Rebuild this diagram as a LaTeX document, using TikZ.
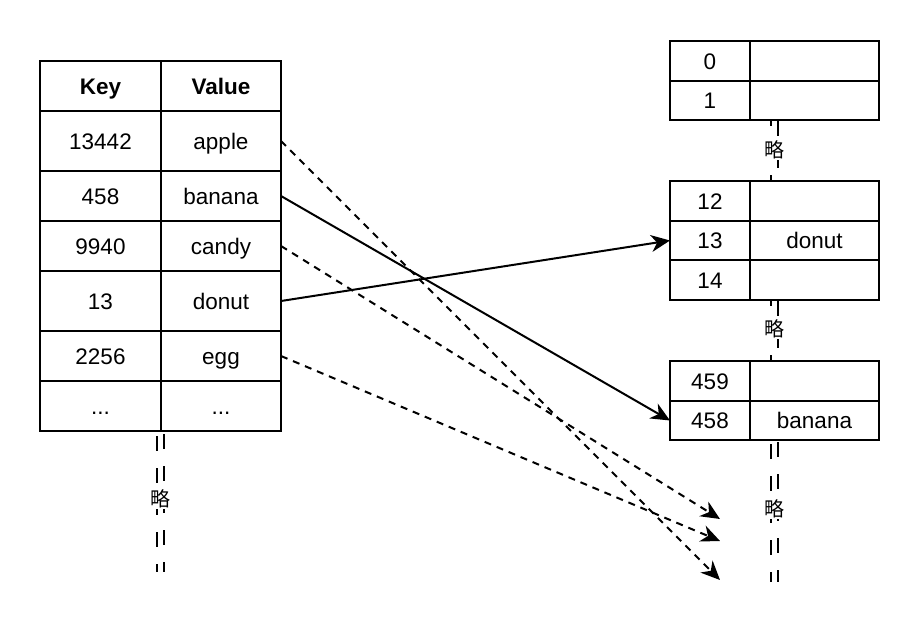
\documentclass[tikz,border=0pt]{standalone}
\usepackage{fontspec}
\setmainfont{Liberation Sans}
\newfontfamily\cjk{Noto Sans CJK SC}
\usetikzlibrary{arrows.meta}
\newcommand\cellat[6]{\node[cell, minimum width=#4pt, minimum height=#5pt] (#1) at (#2,#3) {#6};}
\begin{document}
\begin{tikzpicture}[x=1pt,y=-1pt,
  cell/.style={draw, line width=2pt, anchor=north west, inner sep=0pt, outer sep=0pt,
    text height=16pt, text depth=0pt, font=\fontsize{22.5}{26}\selectfont},
  tip/.style={-{Stealth[length=19pt,width=17pt,inset=6pt]}},
  solidarrow/.style={tip, line width=2pt},
  dasharrow/.style={tip, line width=2pt, dash pattern=on 7pt off 6pt},
  omitline/.style={line width=2pt, dash pattern=on 15pt off 17pt},
  omitlabel/.style={fill=white, inner sep=0.5pt, font=\cjk\fontsize{20}{23}\selectfont}
]
\useasboundingbox (0,0) rectangle (922,638);

% ---- left table ----
\cellat{hk}{40}{61}{121}{50}{\bfseries Key}
\cellat{hv}{161}{61}{120}{50}{\bfseries Value}
\cellat{k1}{40}{111}{121}{60}{13442}
\cellat{apple}{161}{111}{120}{60}{apple}
\cellat{k2}{40}{171}{121}{50}{458}
\cellat{banana}{161}{171}{120}{50}{banana}
\cellat{k3}{40}{221}{121}{50}{9940}
\cellat{candy}{161}{221}{120}{50}{candy}
\cellat{k4}{40}{271}{121}{60}{13}
\cellat{donut}{161}{271}{120}{60}{donut}
\cellat{k5}{40}{331}{121}{50}{2256}
\cellat{egg}{161}{331}{120}{50}{egg}
\cellat{k6}{40}{381}{121}{50}{...}
\cellat{v6}{161}{381}{120}{50}{...}

% ---- right tables ----
\cellat{a0}{670}{41}{80}{40}{0}
\cellat{b0}{750}{41}{129}{40}{}
\cellat{a1}{670}{81}{80}{39}{1}
\cellat{b1}{750}{81}{129}{39}{}

\cellat{a12}{670}{181}{80}{40}{12}
\cellat{b12}{750}{181}{129}{40}{}
\cellat{a13}{670}{221}{80}{39}{13}
\cellat{b13}{750}{221}{129}{39}{donut}
\cellat{a14}{670}{260}{80}{40}{14}
\cellat{b14}{750}{260}{129}{40}{}

\cellat{a459}{670}{361}{80}{40}{459}
\cellat{b459}{750}{361}{129}{40}{}
\cellat{a458}{670}{401}{80}{39}{458}
\cellat{b458}{750}{401}{129}{39}{banana}

% ---- omitted-part double lines ----
\coordinate (L1s) at (157,432); \coordinate (L1e) at (157,572);
\coordinate (L2s) at (164,432); \coordinate (L2e) at (164,572);
\draw[omitline, dash phase=-4pt] (L1s) -- (L1e);
\draw[omitline, dash phase=-2pt] (L2s) -- (L2e);
\node[omitlabel] (om1) at (160.5,499) {略};

\coordinate (R1s) at (771,121); \coordinate (R1e) at (771,180);
\coordinate (R2s) at (778,121); \coordinate (R2e) at (778,180);
\draw[omitline, dash phase=10pt] (R1s) -- (R1e);
\draw[omitline] (R2s) -- (R2e);
\node[omitlabel] (om2) at (774.5,150) {略};

\coordinate (S1s) at (771,301); \coordinate (S1e) at (771,360);
\coordinate (S2s) at (778,301); \coordinate (S2e) at (778,360);
\draw[omitline, dash phase=10pt] (S1s) -- (S1e);
\draw[omitline] (S2s) -- (S2e);
\node[omitlabel] (om3) at (774.5,329) {略};

\coordinate (T1s) at (771,441); \coordinate (T1e) at (771,582);
\coordinate (T2s) at (778,441); \coordinate (T2e) at (778,582);
\draw[omitline, dash phase=-3pt] (T1s) -- (T1e);
\draw[omitline, dash phase=-1pt] (T2s) -- (T2e);
\node[omitlabel] (om4) at (774.5,509) {略};

% ---- arrows ----
\coordinate (t1) at (720,519);
\coordinate (t2) at (720,541);
\coordinate (t3) at (720,580);
\draw[dasharrow] (apple.east) -- (t3);
\draw[dasharrow] (candy.east) -- (t1);
\draw[dasharrow] (egg.east) -- (t2);
\draw[solidarrow] (banana.east) -- (a458.west);
\draw[solidarrow] (donut.east) -- (a13.west);
\end{tikzpicture}
\end{document}
